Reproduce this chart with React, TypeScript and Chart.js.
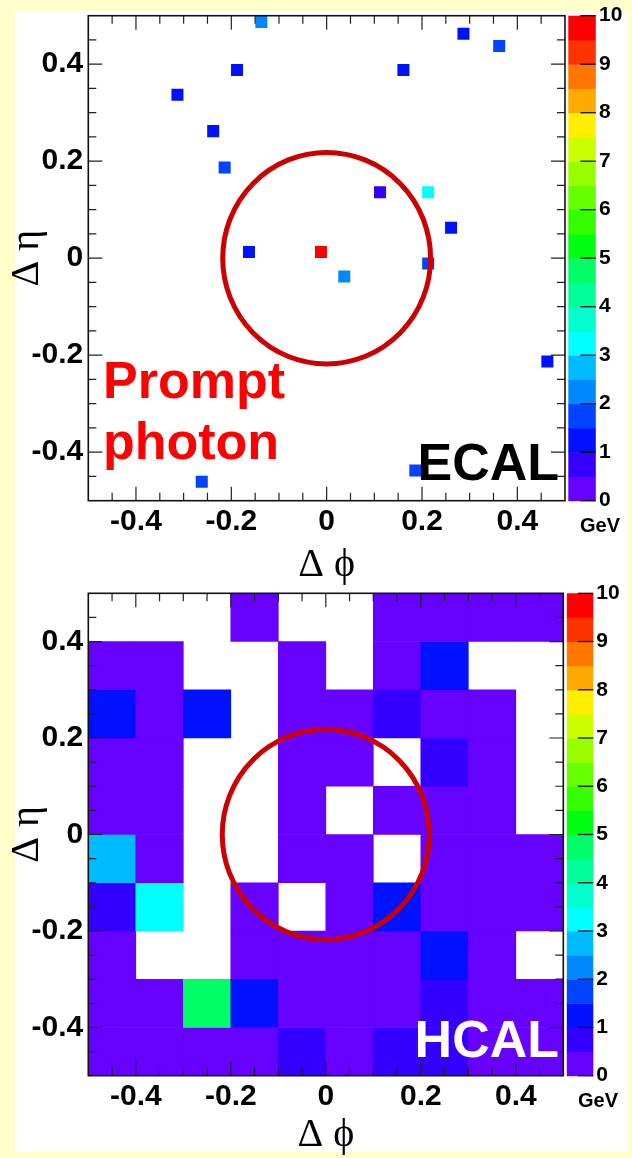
import React, { useEffect, useRef } from "react";
import { Chart, registerables } from "chart.js";

Chart.register(...registerables);

// ---------------- data ----------------
const AXIS_TICKS = [-0.4, -0.2, 0, 0.2, 0.4];
const AXIS_TICK_LABELS = ["-0.4", "-0.2", "0", "0.2", "0.4"];
const COLORBAR_TICKS = [0, 1, 2, 3, 4, 5, 6, 7, 8, 9, 10];
const COLORBAR_LABELS = ["0", "1", "2", "3", "4", "5", "6", "7", "8", "9", "10"];
const PALETTE = [
  "#6600ff", "#3300ff", "#0011ff", "#0044ff", "#0088ff",
  "#00bbff", "#00ffff", "#00ffcc", "#00ff99", "#00ff66",
  "#00ff11", "#33ff00", "#66ff00", "#99ff00", "#ccff00",
  "#ffee00", "#ffaa00", "#ff7700", "#ff3300", "#ff0000",
];
const PALETTE_MAX = 10;

// ECAL crystals (Δφ, Δη, energy in GeV)
const ECAL_DPHI = [-0.137, 0.287, 0.362, -0.188, 0.161, -0.313, -0.238, -0.214, 0.112, 0.213, 0.261, -0.163, -0.012, 0.213, 0.037, 0.463, 0.186, -0.262];
const ECAL_DETA = [0.487, 0.463, 0.4375, 0.388, 0.388, 0.337, 0.262, 0.187, 0.136, 0.136, 0.063, 0.013, 0.013, -0.011, -0.0375, -0.213, -0.4375, -0.461];
const ECAL_E = [2.2, 1.3, 1.7, 1.2, 1.2, 1.3, 1.3, 1.7, 0.8, 3.2, 1.3, 1.2, 9.8, 1.7, 2.2, 1.3, 1.7, 1.7];

// HCAL towers: columns in Δφ, rows in Δη (top row first), energy in GeV (0 = empty)
const HCAL_PHI_CENTERS = [-0.45, -0.35, -0.25, -0.15, -0.05, 0.05, 0.15, 0.25, 0.35, 0.45];
const HCAL_ETA_LOW = [0.4, 0.3, 0.2, 0.1, 0.0, -0.1, -0.2, -0.3, -0.4, -0.5];
const HCAL_ETA_HIGH = [0.5, 0.4, 0.3, 0.2, 0.1, 0.0, -0.1, -0.2, -0.3, -0.4];
const HCAL_E = [
  [0, 0, 0, 0.3, 0, 0, 0.3, 0.3, 0.3, 0.3],
  [0.3, 0.3, 0, 0, 0.3, 0, 0.3, 1.3, 0, 0],
  [1.2, 0.3, 1.2, 0, 0.3, 0.3, 0.8, 0.3, 0.3, 0],
  [0.3, 0.3, 0, 0, 0.3, 0.3, 0, 0.8, 0.3, 0],
  [0.3, 0.3, 0, 0, 0.3, 0, 0.3, 0.3, 0.3, 0],
  [2.7, 0.3, 0, 0, 0.3, 0.3, 0, 0.3, 0.3, 0.3],
  [0.8, 3.2, 0, 0.3, 0, 0.3, 1.2, 0.3, 0.3, 0.3],
  [0.3, 0, 0, 0.3, 0.3, 0.3, 0.3, 1.3, 0.3, 0],
  [0.3, 0.3, 4.7, 1.2, 0.3, 0.3, 0.3, 0.8, 0.3, 0.3],
  [0.3, 0.3, 0.3, 0.3, 0.8, 0.3, 0.8, 0.8, 0.3, 0.3],
];

const CONE_RADIUS = 0.218;

// ---------------- helpers ----------------
function colorFor(v: number): string {
  const n = PALETTE.length;
  const i = Math.floor((v / PALETTE_MAX) * n);
  return PALETTE[Math.max(0, Math.min(n - 1, i))];
}

function labelFor(ticks: number[], labels: string[], v: number): string {
  const i = ticks.findIndex((t) => Math.abs(t - v) < 1e-9);
  return i >= 0 ? labels[i] : "";
}

const SANS = "'Liberation Sans', Arial, Helvetica, sans-serif";
const SERIF = "'Liberation Serif', 'Times New Roman', Times, serif";

type TextItem = { text: string; x: number; y: number; align: CanvasTextAlign; color: string; size: number };

function decorPlugin(cfg: { texts: TextItem[]; cbGap: number; cbWidth: number; gevX: number }) {
  return {
    id: "decor",
    afterDatasetsDraw(chart: any) {
      const ctx: CanvasRenderingContext2D = chart.ctx;
      const { left, right, top, bottom } = chart.chartArea;
      const xs = chart.scales.x;
      const ys = chart.scales.y;
      const cb = chart.scales.cb;
      ctx.save();

      // colour bar
      const cbL = right + cfg.cbGap;
      const cbR = cbL + cfg.cbWidth;
      const n = PALETTE.length;
      for (let i = 0; i < n; i++) {
        const y0 = cb.getPixelForValue((i * PALETTE_MAX) / n);
        const y1 = cb.getPixelForValue(((i + 1) * PALETTE_MAX) / n);
        ctx.fillStyle = PALETTE[i];
        ctx.fillRect(cbL, y1, cbR - cbL, y0 - y1 + 0.5);
      }
      ctx.strokeStyle = "#111";
      ctx.lineWidth = 1.3;
      for (const v of COLORBAR_TICKS) {
        const y = cb.getPixelForValue(v);
        ctx.beginPath();
        ctx.moveTo(cbR - 15.5, y);
        ctx.lineTo(cbR, y);
        ctx.stroke();
      }
      ctx.fillStyle = "#000";
      ctx.font = `bold 20px ${SANS}`;
      ctx.textAlign = "center";
      ctx.textBaseline = "alphabetic";
      ctx.fillText("GeV", cfg.gevX, bottom + 31.5);

      // cone circle
      const cx = xs.getPixelForValue(0);
      const cy = ys.getPixelForValue(0);
      const rx = Math.abs(xs.getPixelForValue(CONE_RADIUS) - cx);
      const ry = Math.abs(ys.getPixelForValue(CONE_RADIUS) - cy);
      ctx.beginPath();
      ctx.ellipse(cx, cy, rx, ry, 0, 0, Math.PI * 2);
      ctx.lineWidth = 5;
      ctx.strokeStyle = "#cc0000";
      ctx.stroke();

      // frame ticks (all four sides, inward)
      ctx.strokeStyle = "#222";
      ctx.lineWidth = 1.2;
      for (let k = -9; k <= 9; k++) {
        const v = k * 0.05;
        const len = k % 4 === 0 ? 14 : 8;
        const px = xs.getPixelForValue(v);
        const py = ys.getPixelForValue(v);
        ctx.beginPath();
        ctx.moveTo(px, bottom);
        ctx.lineTo(px, bottom - len);
        ctx.moveTo(px, top);
        ctx.lineTo(px, top + len);
        ctx.moveTo(left, py);
        ctx.lineTo(left + len, py);
        ctx.moveTo(right, py);
        ctx.lineTo(right - len, py);
        ctx.stroke();
      }
      ctx.strokeStyle = "#111";
      ctx.lineWidth = 1.6;
      ctx.strokeRect(left, top, right - left, bottom - top);

      // annotations
      for (const t of cfg.texts) {
        ctx.font = `bold ${t.size}px ${SANS}`;
        ctx.fillStyle = t.color;
        ctx.textAlign = t.align;
        ctx.textBaseline = "alphabetic";
        ctx.fillText(t.text, t.x, t.y);
      }
      ctx.restore();
    },
  };
}

function scalesFor(o: { xHeight: number; yWidth: number; cbWidth: number; cbPad: number; xTitlePad: number }) {
  const tickFont = { family: SANS, size: 30, weight: "bold" as const };
  const titleFont = { family: SERIF, size: 40, weight: "normal" as const, lineHeight: 1 };
  return {
    x: {
      type: "linear" as const,
      min: -0.5,
      max: 0.5,
      offset: false,
      grid: { display: false, drawTicks: false },
      border: { display: false },
      afterBuildTicks: (s: any) => {
        s.ticks = AXIS_TICKS.map((v) => ({ value: v }));
      },
      ticks: {
        font: tickFont,
        color: "#000",
        padding: 3,
        maxRotation: 0,
        minRotation: 0,
        autoSkip: false,
        callback: (v: any) => labelFor(AXIS_TICKS, AXIS_TICK_LABELS, Number(v)),
      },
      title: { display: true, text: "Δ ϕ", font: titleFont, color: "#000", padding: { top: 0, bottom: o.xTitlePad } },
      afterFit: (s: any) => {
        s.height = o.xHeight;
        s.paddingLeft = 0;
        s.paddingRight = 0;
      },
    },
    y: {
      type: "linear" as const,
      position: "left" as const,
      min: -0.5,
      max: 0.5,
      grid: { display: false, drawTicks: false },
      border: { display: false },
      afterBuildTicks: (s: any) => {
        s.ticks = AXIS_TICKS.map((v) => ({ value: v }));
      },
      ticks: {
        font: tickFont,
        color: "#000",
        padding: 5,
        autoSkip: false,
        callback: (v: any) => labelFor(AXIS_TICKS, AXIS_TICK_LABELS, Number(v)),
      },
      title: { display: true, text: "Δ η", font: titleFont, color: "#000", padding: { top: 7, bottom: 0 } },
      afterFit: (s: any) => {
        s.width = o.yWidth;
        s.paddingTop = 0;
        s.paddingBottom = 0;
      },
    },
    cb: {
      type: "linear" as const,
      axis: "y" as const,
      position: "right" as const,
      min: 0,
      max: PALETTE_MAX,
      grid: { display: false, drawTicks: false },
      border: { display: false },
      afterBuildTicks: (s: any) => {
        s.ticks = COLORBAR_TICKS.map((v) => ({ value: v }));
      },
      ticks: {
        font: { family: SANS, size: 21, weight: "bold" as const },
        color: "#000",
        padding: o.cbPad,
        autoSkip: false,
        callback: (v: any) => labelFor(COLORBAR_TICKS, COLORBAR_LABELS, Number(v)),
      },
      afterFit: (s: any) => {
        s.width = o.cbWidth;
        s.paddingTop = 0;
        s.paddingBottom = 0;
      },
    },
  };
}

function ecalConfig(): any {
  return {
    type: "scatter",
    data: {
      datasets: [
        {
          label: "ECAL",
          data: ECAL_DPHI.map((x, i) => ({ x, y: ECAL_DETA[i] })),
          pointStyle: "rect",
          pointRadius: 8.5,
          pointHoverRadius: 8.5,
          pointBackgroundColor: ECAL_E.map(colorFor),
          pointBorderWidth: 0,
          pointBorderColor: "rgba(0,0,0,0)",
          showLine: false,
        },
      ],
    },
    options: {
      responsive: false,
      maintainAspectRatio: false,
      animation: false,
      events: [],
      layout: { padding: { top: 15.7, left: 0, right: 0, bottom: 0 } },
      plugins: { legend: { display: false }, tooltip: { enabled: false } },
      scales: scalesFor({ xHeight: 89.3, yWidth: 88.3, cbWidth: 67, cbPad: 34, xTitlePad: 5 }),
    },
    plugins: [
      decorPlugin({
        cbGap: 3.3,
        cbWidth: 27.5,
        gevX: 600,
        texts: [
          { text: "Prompt", x: 103, y: 398, align: "left", color: "#ff0000", size: 52 },
          { text: "photon", x: 103, y: 459, align: "left", color: "#ff0000", size: 52 },
          { text: "ECAL", x: 559, y: 480, align: "right", color: "#000000", size: 52 },
        ],
      }),
    ],
  };
}

function hcalConfig(): any {
  const datasets = HCAL_E.map((row, r) => {
    const cells = row.map((e, c) => ({ e, c })).filter((d) => d.e > 0);
    return {
      type: "bar",
      label: `row ${r}`,
      data: cells.map((d) => ({ x: HCAL_PHI_CENTERS[d.c], y: [HCAL_ETA_LOW[r], HCAL_ETA_HIGH[r]] })),
      backgroundColor: cells.map((d) => colorFor(d.e)),
      borderWidth: 0,
      grouped: false,
      barPercentage: 1,
      categoryPercentage: 1,
    };
  });
  const scales: any = scalesFor({ xHeight: 82.3, yWidth: 88.3, cbWidth: 68.7, cbPad: 33, xTitlePad: 3 });
  return {
    type: "bar",
    data: { datasets },
    options: {
      responsive: false,
      maintainAspectRatio: false,
      animation: false,
      events: [],
      layout: { padding: { top: 13.3, left: 0, right: 0, bottom: 0 } },
      plugins: { legend: { display: false }, tooltip: { enabled: false } },
      scales,
    },
    plugins: [
      decorPlugin({
        cbGap: 3.5,
        cbWidth: 26.5,
        gevX: 598,
        texts: [{ text: "HCAL", x: 559, y: 477, align: "right", color: "#ffffff", size: 52 }],
      }),
    ],
  };
}

export default function App() {
  const topRef = useRef<HTMLCanvasElement>(null);
  const botRef = useRef<HTMLCanvasElement>(null);

  useEffect(() => {
    const c1 = new Chart(topRef.current as HTMLCanvasElement, ecalConfig());
    const c2 = new Chart(botRef.current as HTMLCanvasElement, hcalConfig());
    return () => {
      c1.destroy();
      c2.destroy();
    };
  }, []);

  return (
    <div
      style={{
        position: "absolute",
        left: 0,
        top: 0,
        width: 632,
        height: 1158,
        background: "#ffffcc",
        overflow: "hidden",
      }}
    >
      <div style={{ position: "absolute", left: 15, top: 11, width: 612, height: 1141, background: "#ffffff" }} />
      <canvas ref={topRef} width={632} height={590} style={{ position: "absolute", left: 0, top: 0 }} />
      <canvas ref={botRef} width={632} height={578} style={{ position: "absolute", left: 0, top: 580 }} />
    </div>
  );
}
